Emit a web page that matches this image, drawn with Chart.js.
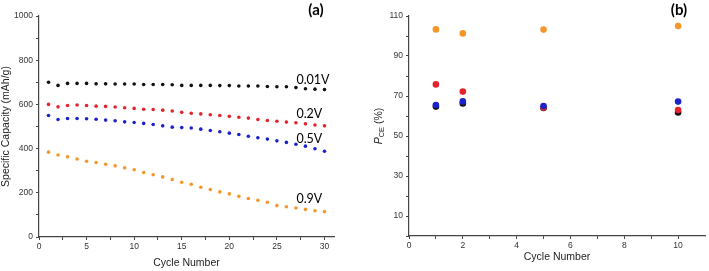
<!DOCTYPE html>
<html>
<head>
<meta charset="utf-8">
<script src="https://cdn.jsdelivr.net/npm/chart.js@4"></script>
<style>
  html, body { margin: 0; padding: 0; background: #fff; }
  #wrap { position: relative; width: 709px; height: 271px; }
  canvas { position: absolute; top: 0; }
  #left { left: 0; }
  #right { left: 355px; }
</style>
</head>
<body>
<div id="wrap">
  <canvas id="left" width="345" height="271"></canvas>
  <canvas id="right" width="354" height="271"></canvas>
</div>
<script>
// panel (a): capacity vs cycle at each cut-off voltage
const cycles = [1, 2, 3, 4, 5, 6, 7, 8, 9, 10, 11, 12, 13, 14, 15,
  16, 17, 18, 19, 20, 21, 22, 23, 24, 25, 26, 27, 28, 29, 30];
const cap001 = [700, 686, 695, 695, 695, 693, 693, 692, 692, 692, 690, 690, 690, 689, 686,
  686, 686, 686, 685, 685, 683, 683, 683, 681, 680, 680, 676, 671, 669, 667];
const cap02 = [600, 589, 595, 597, 595, 592, 591, 588, 585, 582, 578, 577, 574, 570, 564,
  560, 557, 553, 550, 546, 542, 538, 532, 527, 524, 520, 517, 512, 507, 503];
const cap05 = [550, 532, 536, 536, 535, 533, 529, 526, 521, 518, 514, 509, 503, 497, 495,
  493, 488, 482, 476, 470, 464, 456, 449, 443, 435, 428, 420, 411, 399, 388];
const cap09 = [384, 371, 363, 353, 343, 337, 329, 322, 313, 304, 292, 282, 272, 260, 248,
  239, 225, 215, 204, 195, 184, 174, 166, 157, 142, 137, 131, 125, 119, 115];
const voltLabels = ['0.01V', '0.2V', '0.5V', '0.9V'];

// panel (b): P_CE at selected cycles
const ceCycles = [1, 2, 5, 10];
const ce001 = [64.7, 66.3, 64.0, 61.8];
const ce02 = [75.8, 72.2, 64.2, 63.0];
const ce05 = [65.5, 67.3, 65.0, 67.2];
const ce09 = [103.3, 101.3, 103.2, 105.0];

const leftXTicks = [0, 5, 10, 15, 20, 25, 30];
const leftYTicks = [0, 200, 400, 600, 800, 1000];
const rightXTicks = [0, 2, 4, 6, 8, 10];
const rightYTicks = [10, 30, 50, 70, 90, 110];

const BLACK = '#111111';
const RED = '#e3242b';
const BLUE = '#1c22c9';
const ORANGE = '#f5962a';
const AXIS = '#444444';

Chart.defaults.font.family = '"Liberation Sans", Arial, sans-serif';
Chart.defaults.color = '#333';

const pts = (xs, ys) => xs.map((x, i) => ({ x: x, y: ys[i] }));

// major + minor tick positions, last one at the last labelled tick
function tickSet(step, last) {
  const out = [];
  for (let i = 0; i * step <= last + 1e-9; i++) out.push({ value: i * step });
  return out;
}

const textMarks = {
  id: 'textMarks',
  afterDraw(chart, args, opts) {
    const ctx = chart.ctx;
    (opts.items || []).forEach(it => {
      ctx.save();
      ctx.font = it.font;
      ctx.fillStyle = it.color || '#000';
      ctx.textAlign = it.align || 'left';
      ctx.textBaseline = 'middle';
      const x = it.px != null ? it.px : chart.scales.x.getPixelForValue(it.x);
      const y = it.py != null ? it.py : chart.scales.y.getPixelForValue(it.y);
      ctx.fillText(it.text, x, y);
      ctx.restore();
    });
  }
};

const ceTitle = {
  id: 'ceTitle',
  afterDraw(chart) {
    const { ctx, chartArea } = chart;
    const cy = (chartArea.top + chartArea.bottom) / 2;
    const fam = '"Liberation Sans", Arial, sans-serif';
    ctx.save();
    ctx.translate(23, cy);
    ctx.rotate(-Math.PI / 2);
    ctx.fillStyle = '#222';
    ctx.textBaseline = 'alphabetic';
    ctx.font = 'italic 10.5px ' + fam;
    const w1 = ctx.measureText('P').width;
    ctx.font = '7.5px ' + fam;
    const w2 = ctx.measureText('CE').width;
    ctx.font = '10.5px ' + fam;
    const w3 = ctx.measureText(' (%)').width;
    let x = -(w1 + w2 + w3) / 2;
    ctx.font = 'italic 10.5px ' + fam;
    ctx.fillText('P', x, 3.8);
    x += w1;
    ctx.font = '7.5px ' + fam;
    ctx.fillText('CE', x, 6.3);
    x += w2;
    ctx.font = '10.5px ' + fam;
    ctx.fillText(' (%)', x, 3.8);
    ctx.restore();
  }
};

function axis(extra) {
  return Object.assign({
    type: 'linear',
    grid: { drawOnChartArea: false, drawTicks: true, tickLength: 3, tickColor: AXIS, tickWidth: 1 },
    border: { display: true, color: AXIS, width: 1.2 }
  }, extra);
}

const dot = (label, data, color, r) => ({
  label: label,
  data: data,
  showLine: false,
  pointRadius: r,
  pointBorderWidth: 0,
  pointBackgroundColor: color,
  pointBorderColor: color
});

new Chart(document.getElementById('left'), {
  type: 'scatter',
  data: {
    datasets: [
      dot('0.01V', pts(cycles, cap001), BLACK, 1.8),
      dot('0.2V', pts(cycles, cap02), RED, 1.8),
      dot('0.5V', pts(cycles, cap05), BLUE, 1.8),
      dot('0.9V', pts(cycles, cap09), ORANGE, 1.8)
    ]
  },
  options: {
    responsive: false,
    animation: false,
    events: [],
    layout: { padding: { left: 0, top: 16, right: 11, bottom: 0 } },
    plugins: {
      legend: { display: false },
      tooltip: { enabled: false },
      textMarks: {
        items: [
          { text: voltLabels[0], x: 27.05, y: 712, font: '12.5px Lato' },
          { text: voltLabels[1], x: 27.05, y: 556, font: '12.5px Lato' },
          { text: voltLabels[2], x: 27.05, y: 443, font: '12.5px Lato' },
          { text: voltLabels[3], x: 27.05, y: 171, font: '12.5px Lato' },
          { text: '(a)', px: 316, py: 10, align: 'center', font: 'bold 15px Lato' }
        ]
      }
    },
    scales: {
      x: axis({
        min: 0, max: 31,
        afterBuildTicks: s => { s.ticks = tickSet(2.5, 30); },
        afterFit: s => { s.height = 34; },
        ticks: { stepSize: 2.5, autoSkip: false, maxRotation: 0, padding: 2, font: { size: 8.5 },
          callback: v => leftXTicks.includes(v) ? String(v) : '' },
        title: { display: true, text: 'Cycle Number', color: '#222', font: { size: 10.5 }, padding: { top: 0, bottom: 2 } }
      }),
      y: axis({
        min: 0, max: 1000,
        afterFit: s => { s.width = 39; },
        ticks: { stepSize: 100, autoSkip: false, padding: 3, font: { size: 8.5 },
          callback: v => leftYTicks.includes(v) ? String(v) : '' },
        title: { display: true, text: 'Specific Capacity (mAh/g)', color: '#222', font: { size: 10.5 }, padding: 0 }
      })
    }
  },
  plugins: [textMarks]
});

new Chart(document.getElementById('right'), {
  type: 'scatter',
  data: {
    datasets: [
      dot('0.9V', pts(ceCycles, ce09), ORANGE, 3.3),
      dot('0.5V', pts(ceCycles, ce05), BLUE, 3.3),
      dot('0.2V', pts(ceCycles, ce02), RED, 3.3),
      dot('0.01V', pts(ceCycles, ce001), BLACK, 3.3)
    ]
  },
  options: {
    responsive: false,
    animation: false,
    events: [],
    layout: { padding: { left: 0, top: 16, right: 4, bottom: 0 } },
    plugins: {
      legend: { display: false },
      tooltip: { enabled: false },
      textMarks: {
        items: [
          { text: '(b)', px: 324, py: 10, align: 'center', font: 'bold 15px Lato' }
        ]
      }
    },
    scales: {
      x: axis({
        min: 0, max: 11,
        afterBuildTicks: s => { s.ticks = tickSet(1, 10); },
        afterFit: s => { s.height = 35; },
        ticks: { stepSize: 1, autoSkip: false, maxRotation: 0, padding: 2, font: { size: 8.5 },
          callback: v => rightXTicks.includes(v) ? String(v) : '' },
        title: { display: true, text: 'Cycle Number', color: '#222', font: { size: 10.5 }, padding: { top: 0, bottom: 8 } }
      }),
      y: axis({
        min: 0, max: 110,
        afterFit: s => { s.width = 54; },
        ticks: { stepSize: 10, autoSkip: false, padding: 3, font: { size: 8.5 },
          callback: v => rightYTicks.includes(v) ? String(v) : '' }
      })
    }
  },
  plugins: [textMarks, ceTitle]
});
</script>
</body>
</html>
